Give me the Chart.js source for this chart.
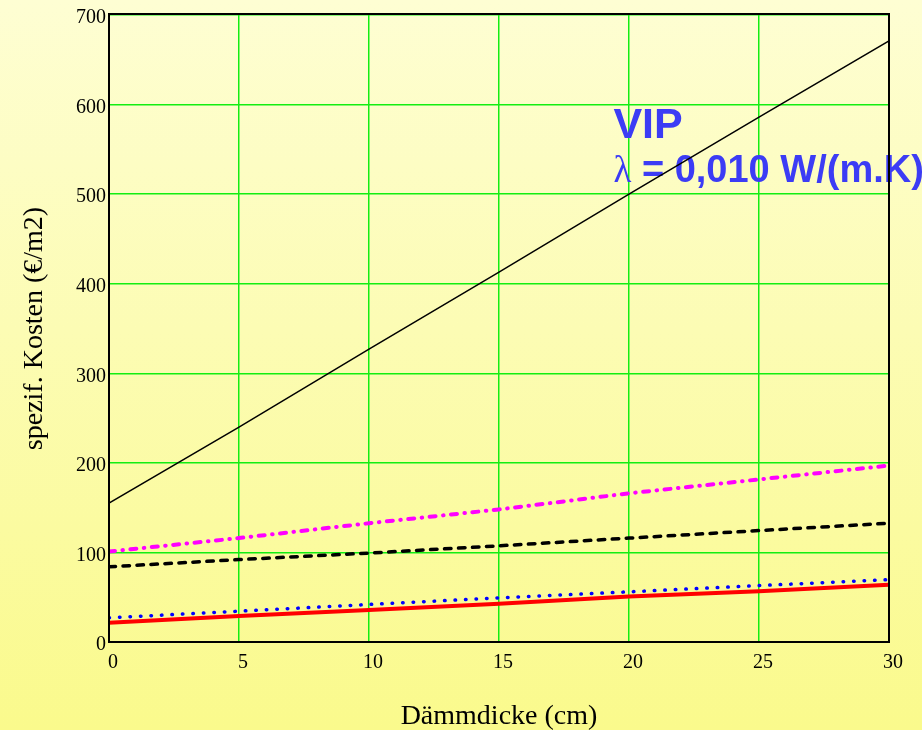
<!DOCTYPE html>
<html>
<head>
<meta charset="utf-8">
<script src="https://cdn.jsdelivr.net/npm/chart.js@4/dist/chart.umd.min.js"></script>
<style>
  html, body { margin: 0; padding: 0; }
  body {
    width: 922px; height: 730px; overflow: hidden;
    background: linear-gradient(to bottom, #fefed3 0%, #fcfcb4 45%, #fafa8c 100%);
  }
  canvas { display: block; }
</style>
</head>
<body>
<canvas id="c" width="922" height="730"></canvas>
<script>
// ---- data ----
const thickness = [0, 5, 10, 15, 20, 25, 30];                 // Dämmdicke (cm)
const totalCost   = [155, 240, 327, 413, 500, 586, 671];      // black solid
const magentaCost = [101, 116, 132.6, 148, 166, 181.5, 197];  // magenta dash-dot
const dashedCost  = [84, 92, 99.3, 107.4, 116, 124.4, 132.6]; // black dashed
const blueCost    = [27, 34.4, 41.9, 49.3, 56, 63, 69.6];     // blue dotted
const redCost     = [21.5, 28.9, 35.6, 42.6, 50.7, 56.7, 64]; // red solid

const xTitle = 'Dämmdicke (cm)';
const yTitle = 'spezif. Kosten (€/m2)';
const noteTitle = 'VIP';
const noteLambda = 'λ';
const noteText = ' = 0,010 W/(m.K)';
const noteX = 19.4;
const noteTitleY = 563;
const noteLineY = 513;

const GRID = '#12ee12';

const pts = arr => thickness.map((x, i) => ({ x: x, y: arr[i] }));

const framePlugin = {
  id: 'frame',
  beforeDatasetsDraw(chart) {
    const { ctx, scales: { x, y } } = chart;
    ctx.save();
    ctx.fillStyle = '#3c3cf5';
    ctx.textAlign = 'left';
    ctx.textBaseline = 'alphabetic';
    const px = x.getPixelForValue(noteX);
    ctx.font = 'bold 43px "Liberation Sans", Arial, sans-serif';
    ctx.fillText(noteTitle, px, y.getPixelForValue(noteTitleY));
    const py = y.getPixelForValue(noteLineY);
    ctx.font = '37px "Liberation Serif", serif';
    ctx.fillText(noteLambda, px, py);
    const w = ctx.measureText(noteLambda).width;
    ctx.font = 'bold 38px "Liberation Sans", Arial, sans-serif';
    ctx.fillText(noteText, px + w, py);
    ctx.restore();
  },
  afterDatasetsDraw(chart) {
    const { ctx, chartArea: a } = chart;
    ctx.save();
    ctx.strokeStyle = '#000';
    ctx.lineWidth = 2;
    ctx.strokeRect(a.left, a.top - 1, a.right - a.left, a.bottom - a.top + 1);
    ctx.restore();
  }
};

Chart.defaults.font.family = '"Liberation Serif", "Times New Roman", serif';
Chart.defaults.color = '#000';

new Chart(document.getElementById('c'), {
  type: 'line',
  data: {
    datasets: [
      { data: pts(totalCost), borderColor: '#000000', borderWidth: 1.5 },
      { data: pts(magentaCost), borderColor: '#ff00ff', borderWidth: 4,
        borderDash: [6, 7.5, 0.5, 7.5], borderCapStyle: 'round' },
      { data: pts(dashedCost), borderColor: '#000000', borderWidth: 3.5,
        borderDash: [6.5, 7.5], borderCapStyle: 'round' },
      { data: pts(blueCost), borderColor: '#0000ff', borderWidth: 3.5,
        borderDash: [0.5, 10], borderCapStyle: 'round' },
      { data: pts(redCost), borderColor: '#ff0000', borderWidth: 4 }
    ]
  },
  options: {
    responsive: false,
    animation: false,
    devicePixelRatio: 1,
    elements: { point: { radius: 0 }, line: { tension: 0, fill: false } },
    layout: { padding: { left: 0, top: 11, right: 33, bottom: 0 } },
    plugins: { legend: { display: false }, tooltip: { enabled: false } },
    scales: {
      x: {
        type: 'linear', min: 0, max: 30,
        afterFit: s => { s.height = 88; },
        ticks: { stepSize: 5, padding: 9, labelOffset: 4, font: { size: 20 }, color: '#000' },
        grid: { color: () => GRID, lineWidth: 1.5, drawTicks: false, drawOnChartArea: true },
        border: { display: true, color: '#000', width: 2 },
        title: { display: true, text: xTitle, color: '#000',
                 font: { size: 28, lineHeight: 0.95 }, padding: { top: 0, bottom: 0 } }
      },
      y: {
        type: 'linear', min: 0, max: 700,
        afterFit: s => { s.width = 109; },
        ticks: { stepSize: 100, padding: 3, labelOffset: 3, font: { size: 20 }, color: '#000' },
        grid: { color: () => GRID, lineWidth: 1.5, drawTicks: false },
        border: { display: true, color: '#000', width: 2 },
        title: { display: true, text: yTitle, color: '#000',
                 font: { size: 28, lineHeight: 1.2 }, padding: { top: 18, bottom: 0 } }
      }
    }
  },
  plugins: [framePlugin]
});
</script>
</body>
</html>
